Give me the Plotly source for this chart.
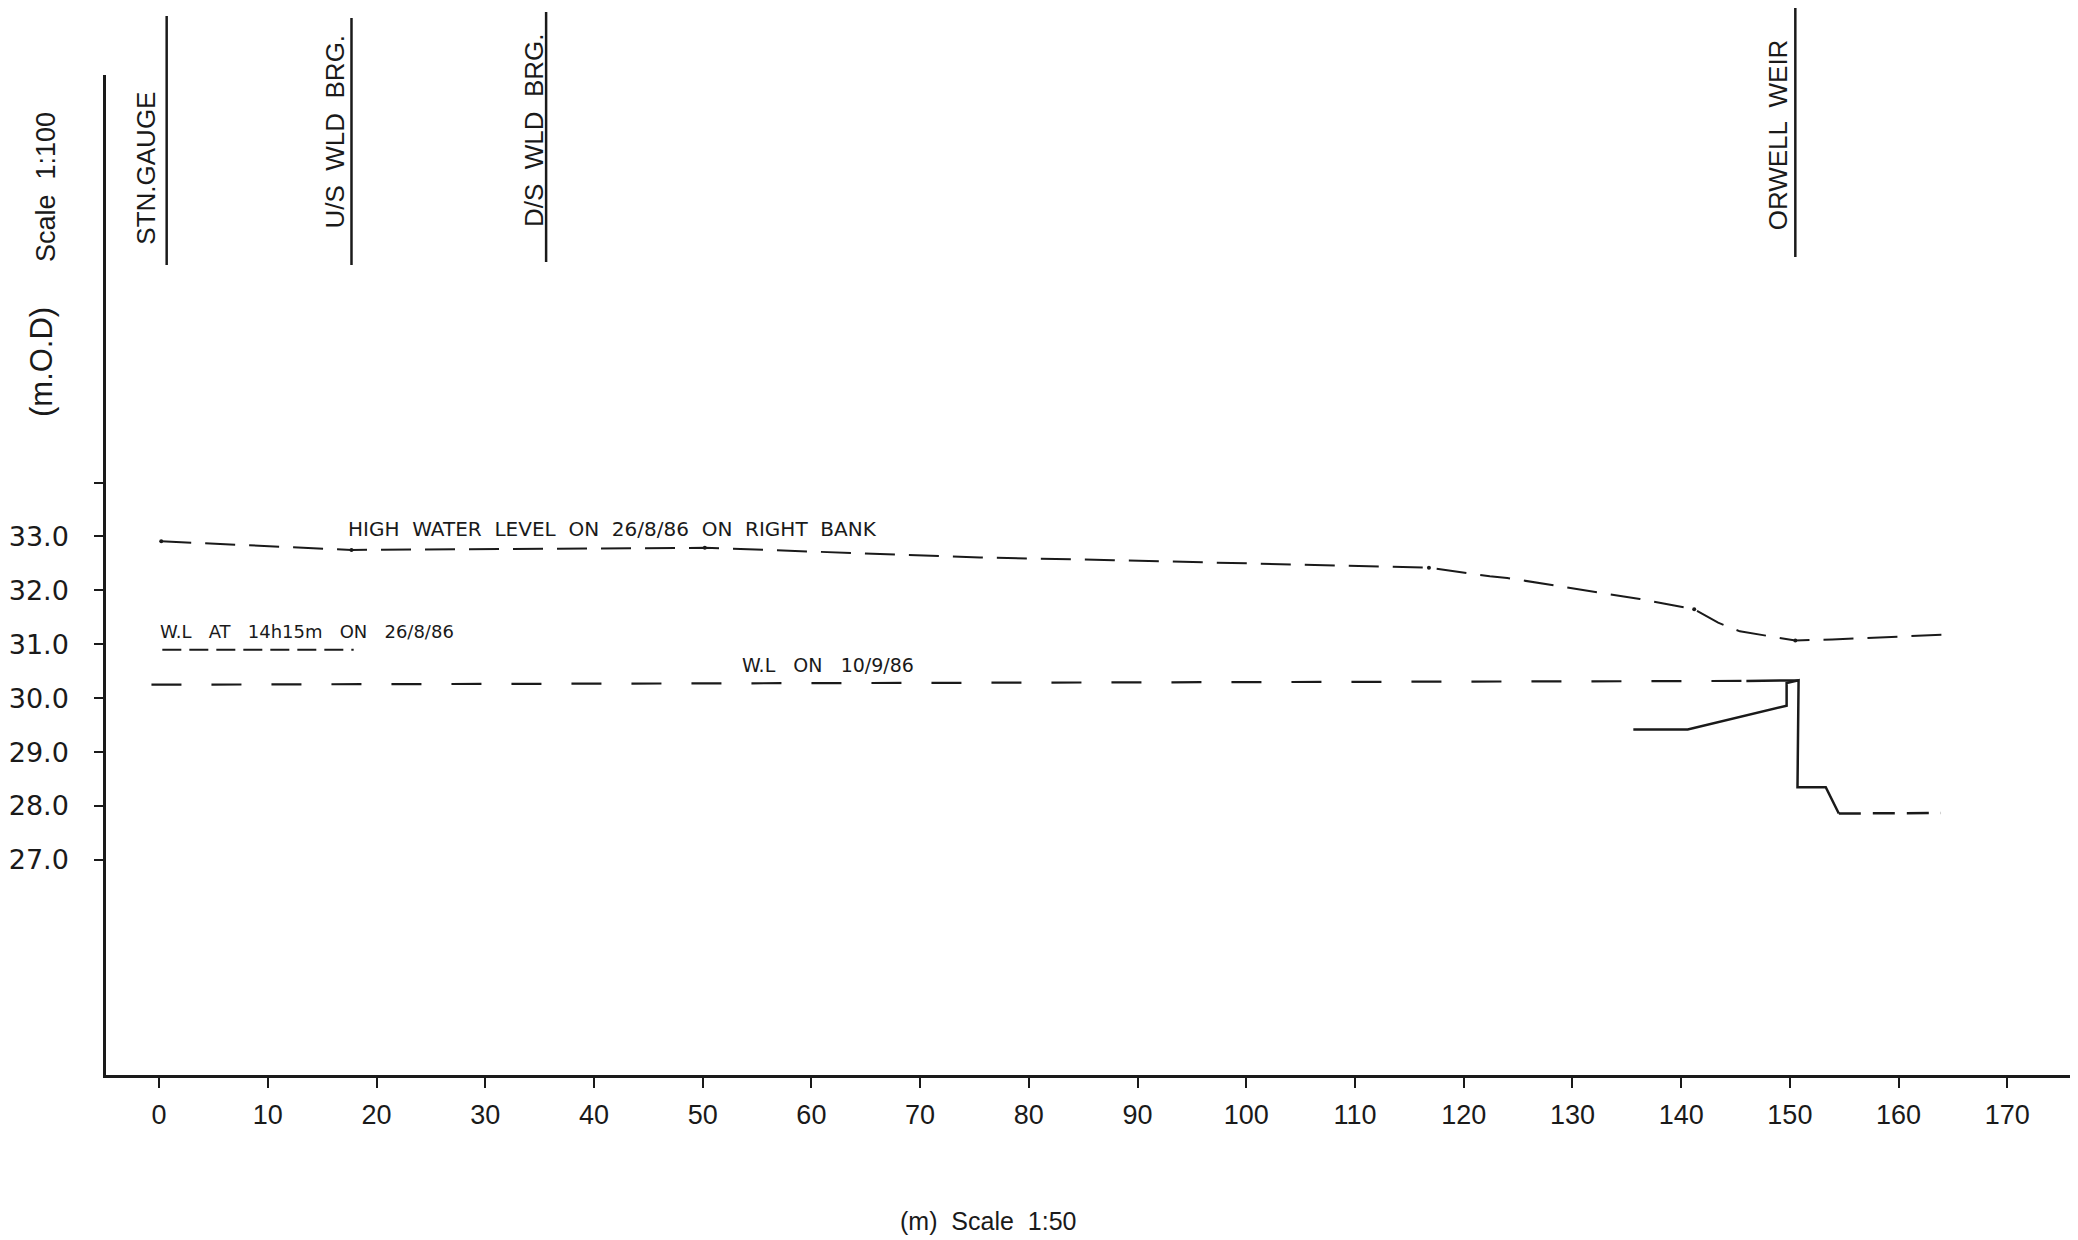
import plotly.graph_objects as go

# ---------------- data ----------------
# High water level on 26/8/86 on right bank (chainage m, level m.O.D)
hwl_x = [0.2, 17.7, 50.2, 75.5, 87.8, 102.2, 112.3, 116.8, 122.4, 124.0, 132.4,
         136.2, 141.2, 143.4, 145.4, 149.1, 150.5, 153.9, 158.3, 164.4]
hwl_y = [32.91, 32.75, 32.79, 32.61, 32.56, 32.49, 32.45, 32.42, 32.26, 32.23, 31.96,
         31.84, 31.65, 31.40, 31.24, 31.12, 31.07, 31.09, 31.13, 31.18]
# surveyed points shown as dots on the high water line
hwl_dot_x = [0.2, 17.7, 50.2, 116.8, 141.2, 150.5]
hwl_dot_y = [32.91, 32.75, 32.79, 32.42, 31.65, 31.07]

# W.L at 14h15m on 26/8/86
wl1415_x = [0.3, 17.9]
wl1415_y = [30.90, 30.90]

# W.L on 10/9/86
wl109_x = [-0.7, 50.0, 100.0, 146.0]
wl109_y = [30.25, 30.27, 30.29, 30.32]
# crest part drawn solid
crest_x = [146.0, 150.8]
crest_y = [30.32, 30.33]

# Weir profile (solid)
weir_x = [135.6, 140.6, 149.7, 149.7, 150.8, 150.7, 153.3, 154.5]
weir_y = [29.42, 29.42, 29.86, 30.28, 30.33, 28.35, 28.35, 27.86]
# downstream level (dashed)
ds_x = [154.5, 163.9]
ds_y = [27.86, 27.87]

# Location markers
marker_names = ["STN.GAUGE", "U/S  WLD  BRG.", "D/S  WLD  BRG.", "ORWELL  WEIR"]
marker_x = [0.7, 17.7, 35.6, 150.5]

# Axis ticks
x_ticks = [0, 10, 20, 30, 40, 50, 60, 70, 80, 90, 100, 110, 120, 130, 140, 150, 160, 170]
y_ticks = [27, 28, 29, 30, 31, 32, 33, 34]
y_ticktext = ["27.0", "28.0", "29.0", "30.0", "31.0", "32.0", "33.0", ""]

# Line labels
line_labels = ["HIGH  WATER  LEVEL  ON  26/8/86  ON  RIGHT  BANK",
               "W.L   AT   14h15m   ON   26/8/86",
               "W.L   ON   10/9/86"]
line_label_x = [41.7, 13.6, 61.5]
line_label_y = [33.13, 31.23, 30.62]

# ---------------- layout geometry ----------------
# page has an 8px body margin; plot area on the page spans x 106..2078, y 75..1075
OFF = 8
W, H = 2070, 1232
L, T, B, R = 106 - OFF, 75 - OFF, 165, 0
PW, PH = W - L - R, H - T - B


def px(xp):  # page pixel -> paper
    return (xp - 106) / PW


def py(yp):  # page pixel -> paper
    return (1075 - yp) / PH


INK = "#1a1a1a"
FONT = "Liberation Sans"

fig = go.Figure()

fig.add_trace(go.Scatter(x=hwl_x, y=hwl_y, mode="lines",
                         line=dict(color=INK, width=2, dash="30px,14px"),
                         hoverinfo="skip", showlegend=False))
fig.add_trace(go.Scatter(x=hwl_dot_x, y=hwl_dot_y, mode="markers",
                         marker=dict(color=INK, size=4),
                         hoverinfo="skip", showlegend=False))
fig.add_trace(go.Scatter(x=wl1415_x, y=wl1415_y, mode="lines",
                         line=dict(color=INK, width=2, dash="19px,8px"),
                         hoverinfo="skip", showlegend=False))
fig.add_trace(go.Scatter(x=wl109_x, y=wl109_y, mode="lines",
                         line=dict(color=INK, width=2.2, dash="30px,30px"),
                         hoverinfo="skip", showlegend=False))
fig.add_trace(go.Scatter(x=crest_x, y=crest_y, mode="lines",
                         line=dict(color=INK, width=2.5),
                         hoverinfo="skip", showlegend=False))
fig.add_trace(go.Scatter(x=weir_x, y=weir_y, mode="lines",
                         line=dict(color=INK, width=2.5),
                         hoverinfo="skip", showlegend=False))
fig.add_trace(go.Scatter(x=ds_x, y=ds_y, mode="lines",
                         line=dict(color=INK, width=2.5, dash="22px,12px"),
                         hoverinfo="skip", showlegend=False))

# marker lines and labels
marker_tops = [16, 18, 12, 8]
marker_bots = [265, 265, 262, 257]
label_centers_y = [168, 131, 130, 135]
label_shift = [-21, -16, -12, -17]
for name, mx, t0, b0, cy, sh in zip(marker_names, marker_x, marker_tops, marker_bots,
                                     label_centers_y, label_shift):
    fig.add_shape(type="line", xref="x", yref="paper", x0=mx, x1=mx,
                  y0=py(b0), y1=py(t0), line=dict(color=INK, width=2.5))
    fig.add_annotation(x=mx, y=py(cy), xref="x", yref="paper", text=name,
                       textangle=-90, showarrow=False, xanchor="center",
                       yanchor="middle", xshift=sh,
                       font=dict(family=FONT, size=26, color=INK))

label_sizes = [20, 18, 19]
for txt, lx, ly, fs in zip(line_labels, line_label_x, line_label_y, label_sizes):
    fig.add_annotation(x=lx, y=ly, xref="x", yref="y", text=txt, showarrow=False,
                       xanchor="center", yanchor="middle",
                       font=dict(family="DejaVu Sans", size=fs, color=INK))

# axis titles
fig.add_annotation(x=px(988), y=py(1221), xref="paper", yref="paper",
                   text="(m)  Scale  1:50", showarrow=False,
                   xanchor="center", yanchor="middle",
                   font=dict(family=FONT, size=25, color=INK))
fig.add_annotation(x=px(41), y=py(362), xref="paper", yref="paper",
                   text="(m.O.D)", textangle=-90, showarrow=False,
                   xanchor="center", yanchor="middle",
                   font=dict(family=FONT, size=31, color=INK))
fig.add_annotation(x=px(46), y=py(187), xref="paper", yref="paper",
                   text="Scale  1:100", textangle=-90, showarrow=False,
                   xanchor="center", yanchor="middle",
                   font=dict(family=FONT, size=27, color=INK))

fig.update_layout(
    width=W, height=H,
    margin=dict(l=L, r=R, t=T, b=B, pad=0),
    paper_bgcolor="white", plot_bgcolor="white",
    showlegend=False,
    xaxis=dict(range=[-4.88, 176.5], tickvals=x_ticks, ticks="outside", ticklen=10,
               tickwidth=1.5, tickcolor=INK, showline=True, linecolor=INK, linewidth=2.5,
               showgrid=False, zeroline=False, ticklabelstandoff=4,
               tickfont=dict(family="Liberation Sans Narrow, Liberation Sans", size=27,
                             color=INK)),
    yaxis=dict(range=[23.01, 41.56], tickvals=y_ticks, ticktext=y_ticktext,
               ticks="outside", ticklen=9, tickwidth=1.5, tickcolor=INK,
               showline=True, linecolor=INK, linewidth=2.5, showgrid=False,
               zeroline=False, ticklabelstandoff=20,
               tickfont=dict(family="DejaVu Sans", size=27, color=INK)),
)

fig.write_html("out.html")
